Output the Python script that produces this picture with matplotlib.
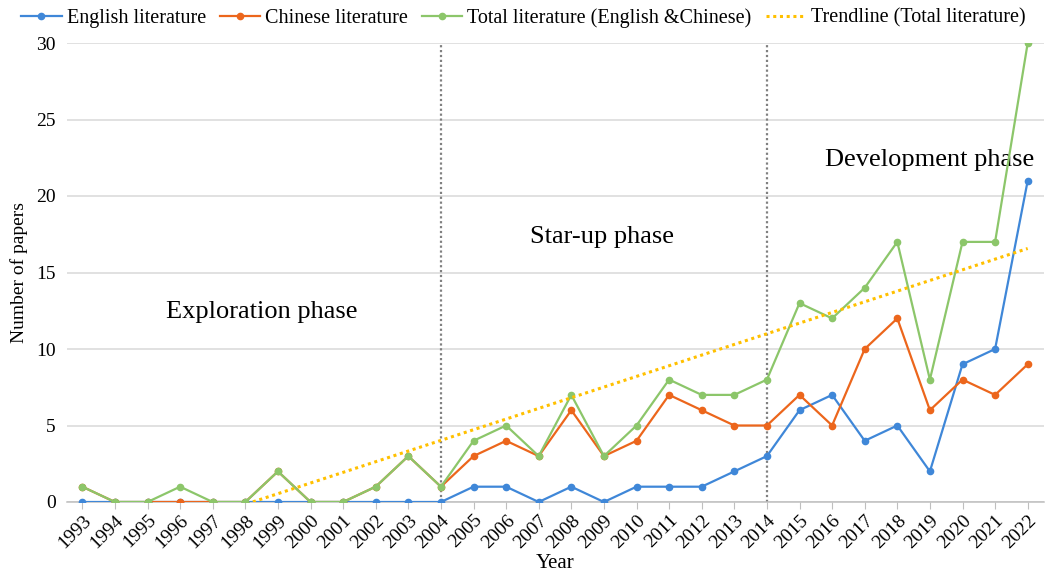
import matplotlib
matplotlib.use("Agg")
import matplotlib.pyplot as plt
import numpy as np

years = list(range(1993, 2023))
english = [0, 0, 0, 0, 0, 0, 0, 0, 0, 0, 0, 0, 1, 1, 0, 1, 0, 1, 1, 1, 2, 3, 6, 7, 4, 5, 2, 9, 10, 21]
chinese = [1, 0, 0, 0, 0, 0, 2, 0, 0, 1, 3, 1, 3, 4, 3, 6, 3, 4, 7, 6, 5, 5, 7, 5, 10, 12, 6, 8, 7, 9]
total = [1, 0, 0, 1, 0, 0, 2, 0, 0, 1, 3, 1, 4, 5, 3, 7, 3, 5, 8, 7, 7, 8, 13, 12, 14, 17, 8, 17, 17, 30]
phase_years = [2004, 2014]
phase_labels = ["Exploration phase", "Star-up phase", "Development phase"]

plt.rcParams['font.family'] = ['Liberation Serif', 'DejaVu Serif']

fig = plt.figure(figsize=(10.47, 5.78), dpi=100)
ax = fig.add_axes([67/1047, 1 - 502/578, (1044-67)/1047, (502-43)/578])

x = np.arange(len(years))
c_blue = '#3F87D8'
c_orange = '#EC661C'
c_green = '#8CC66A'
c_trend = '#FFC000'

ax.plot(x, english, color=c_blue, lw=1.6, marker='o', ms=4.5, label='English literature', zorder=3)
ax.plot(x, chinese, color=c_orange, lw=1.6, marker='o', ms=4.5, label='Chinese literature', zorder=4)
ax.plot(x, total, color=c_green, lw=1.6, marker='o', ms=4.5, label='Total literature (English &Chinese)', zorder=5)

xi = x + 1
slope, intercept = np.polyfit(xi, np.array(total, dtype=float), 1)
xt = np.linspace(xi[0], xi[-1], 400)
yt = slope * xt + intercept
mask = yt >= 0
ax.plot(xt[mask] - 1, yt[mask], color=c_trend, lw=2.2, ls=(0, (1, 1.2)),
        label='Trendline (Total literature)', zorder=6)

for py in phase_years:
    ax.axvline(years.index(py), color='#808080', lw=1.6, ls=(0, (1, 1.2)), zorder=2)

ax.set_xlim(-0.47, len(years) - 0.5)
ax.set_ylim(0, 30)
ax.set_yticks(range(0, 31, 5))
ax.set_xticks(x)
ax.set_xticklabels([str(y) for y in years], rotation=45, ha='right', rotation_mode='anchor', fontsize=14)
ax.tick_params(axis='y', labelsize=14, length=0, pad=8)
ax.tick_params(axis='x', length=5, color='#BFBFBF', pad=2)
ax.grid(axis='y', color='#D9D9D9', lw=1.1, zorder=0)
for s in ['top', 'right', 'left']:
    ax.spines[s].set_visible(False)
ax.spines['bottom'].set_color('#BFBFBF')
ax.spines['bottom'].set_linewidth(1.1)

ax.set_ylabel('Number of papers', fontsize=14, labelpad=6)
ax.set_xlabel('Year', fontsize=15, labelpad=2)

ax.text(5.5, 12.4, phase_labels[0], fontsize=19, ha='center', va='center')
ax.text(15.95, 17.3, phase_labels[1], fontsize=19, ha='center', va='center')
ax.text(26.0, 22.35, phase_labels[2], fontsize=19, ha='center', va='center')

leg = fig.legend(loc='center', bbox_to_anchor=(0.5, 1 - 18/578), ncol=4, frameon=False,
                 fontsize=14.5, handlelength=2.0, columnspacing=0.7, handletextpad=0.25, borderaxespad=0)

fig.savefig('out.png', dpi=100)
